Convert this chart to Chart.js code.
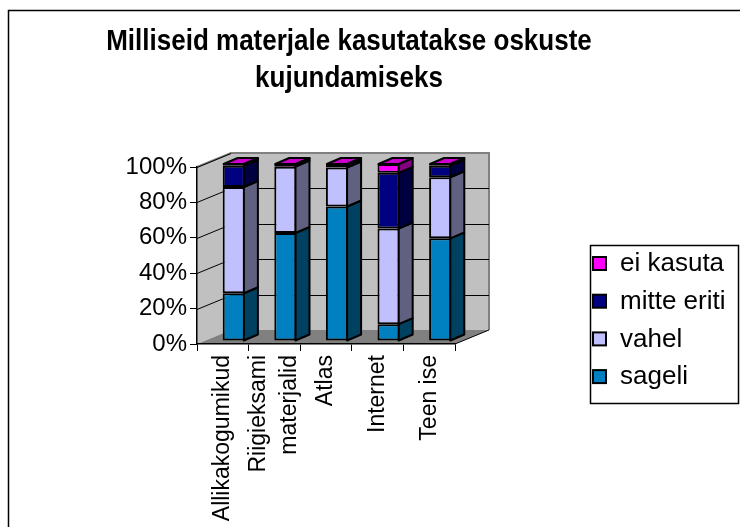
<!DOCTYPE html>
<html lang="et">
<head>
    <meta charset="UTF-8">
    <title>Milliseid materjale kasutatakse oskuste kujundamiseks</title>
    <script src="https://cdn.jsdelivr.net/npm/chart.js"></script>
    <style>
        body {
            margin: 0;
            background-color: #ffffff;
        }
        .chart-container {
            width: 740px;
            height: 527px;
            position: relative;
        }
    </style>
</head>
<body>
    <div class="chart-container">
        <canvas id="materialChart" width="740" height="527"></canvas>
    </div>

    <script>
        // Data (percent of answers)
        const categories = ['Allikakogumikud', ['Riigieksami', 'materjalid'], 'Atlas', 'Internet', 'Teen ise'];
        const sageli = [27, 61, 76, 9.5, 58];
        const vahel = [60, 37.5, 22, 54, 34.5];
        const mitteEriti = [12, 1, 1.5, 31.5, 6.5];
        const eiKasuta = [1, 0.5, 0.5, 5, 1];
        const yTicks = [0, 20, 40, 60, 80, 100];
        const titleLines = ['Milliseid materjale kasutatakse oskuste', 'kujundamiseks'];

        const FONT = '"Liberation Sans", Arial, sans-serif';

        // 3D look: depth of the plot box, and of each bar
        const WALL_DX = 34, WALL_DY = -14;
        const BAR_DX = 11, BAR_DY = -3;
        const SIDE_DX = 14, SIDE_DY = -6;

        const sideColors = ['#004060', '#606080', '#000040', '#800080'];
        const topColor = '#cc00cc';

        const wallsPlugin = {
            id: 'walls',
            beforeDraw(chart) {
                const ctx = chart.ctx;
                const x = chart.scales.x, y = chart.scales.y;
                const left = x.left, right = x.right;
                const top = y.getPixelForValue(100), bottom = y.getPixelForValue(0);
                ctx.save();
                // outer frame
                ctx.strokeStyle = '#000000';
                ctx.lineWidth = 1.5;
                ctx.strokeRect(8.5, 10.5, 760, 560);
                // back wall
                ctx.fillStyle = '#c0c0c0';
                ctx.fillRect(left + WALL_DX, top + WALL_DY, right - left, bottom - top);
                // side wall
                ctx.beginPath();
                ctx.moveTo(left, top);
                ctx.lineTo(left + WALL_DX, top + WALL_DY);
                ctx.lineTo(left + WALL_DX, bottom + WALL_DY);
                ctx.lineTo(left, bottom);
                ctx.closePath();
                ctx.fill();
                // floor
                ctx.fillStyle = '#808080';
                ctx.beginPath();
                ctx.moveTo(left, bottom);
                ctx.lineTo(right, bottom);
                ctx.lineTo(right + WALL_DX, bottom + WALL_DY);
                ctx.lineTo(left + WALL_DX, bottom + WALL_DY);
                ctx.closePath();
                ctx.fill();
                // wall edges
                ctx.strokeStyle = '#808080';
                ctx.lineWidth = 2;
                ctx.beginPath();
                ctx.moveTo(left, top);
                ctx.lineTo(left + WALL_DX, top + WALL_DY);
                ctx.lineTo(right + WALL_DX, top + WALL_DY);
                ctx.lineTo(right + WALL_DX, bottom + WALL_DY);
                ctx.stroke();
                // grid lines on the walls
                ctx.strokeStyle = '#000000';
                ctx.lineWidth = 1;
                yTicks.forEach(v => {
                    if (v === 0) return;
                    const py = Math.round(y.getPixelForValue(v)) + 0.5;
                    ctx.beginPath();
                    ctx.moveTo(left, py);
                    ctx.lineTo(left + WALL_DX, py + WALL_DY);
                    if (v !== 100) ctx.lineTo(right + WALL_DX, py + WALL_DY);
                    ctx.stroke();
                });
                // floor right edge
                ctx.beginPath();
                ctx.moveTo(right, bottom);
                ctx.lineTo(right + WALL_DX, bottom + WALL_DY);
                ctx.stroke();
                ctx.restore();
            }
        };

        const barsPlugin = {
            id: 'bars3d',
            beforeDatasetsDraw(chart) {
                chart.ctx.save();
                chart.ctx.translate(BAR_DX, BAR_DY);
            },
            afterDatasetsDraw(chart) {
                const ctx = chart.ctx;
                ctx.strokeStyle = '#000000';
                ctx.lineWidth = 2;
                ctx.lineJoin = 'round';
                chart.data.datasets.forEach((ds, di) => {
                    const meta = chart.getDatasetMeta(di);
                    meta.data.forEach((bar, i) => {
                        const p = bar.getProps(['x', 'y', 'base', 'width'], true);
                        const x2 = p.x + p.width / 2 - 1;
                        const yt = Math.min(p.y, p.base), yb = Math.max(p.y, p.base);
                        ctx.fillStyle = sideColors[di];
                        ctx.beginPath();
                        ctx.moveTo(x2, yt);
                        ctx.lineTo(x2 + SIDE_DX, yt + SIDE_DY);
                        ctx.lineTo(x2 + SIDE_DX, yb + SIDE_DY);
                        ctx.lineTo(x2, yb);
                        ctx.closePath();
                        ctx.fill();
                        ctx.stroke();
                        if (di === chart.data.datasets.length - 1) {
                            const x1 = p.x - p.width / 2 + 1;
                            ctx.fillStyle = topColor;
                            ctx.beginPath();
                            ctx.moveTo(x1, yt);
                            ctx.lineTo(x2, yt);
                            ctx.lineTo(x2 + SIDE_DX, yt + SIDE_DY);
                            ctx.lineTo(x1 + SIDE_DX, yt + SIDE_DY);
                            ctx.closePath();
                            ctx.fill();
                            ctx.stroke();
                        }
                    });
                });
                ctx.restore();
            }
        };

        const textPlugin = {
            id: 'texts',
            afterDraw(chart) {
                const ctx = chart.ctx;
                const xScale = chart.scales.x;
                ctx.save();
                ctx.fillStyle = '#000000';

                // title, slightly stretched vertically like the original
                ctx.font = 'bold 26px ' + FONT;
                ctx.textAlign = 'center';
                ctx.textBaseline = 'middle';
                titleLines.forEach((line, i) => {
                    ctx.save();
                    ctx.translate(349, 42 + i * 37);
                    ctx.scale(1, 1.1);
                    ctx.fillText(line, 0, 0);
                    ctx.restore();
                });

                // category labels, rotated, multi-line labels centred on the category
                ctx.font = '23px ' + FONT;
                ctx.textAlign = 'right';
                categories.forEach((label, i) => {
                    const lines = Array.isArray(label) ? label : [label];
                    const px = xScale.getPixelForValue(i);
                    lines.forEach((line, j) => {
                        const off = (j - (lines.length - 1) / 2) * 31;
                        ctx.save();
                        ctx.translate(px + off, 355);
                        ctx.rotate(-Math.PI / 2);
                        ctx.fillText(line, 0, 0);
                        ctx.restore();
                    });
                });

                // legend box
                const lx = 590, ly = 245, lw = 148, lh = 158;
                ctx.fillStyle = '#ffffff';
                ctx.fillRect(lx, ly, lw, lh);
                ctx.strokeStyle = '#000000';
                ctx.lineWidth = 1.5;
                ctx.strokeRect(lx + 0.5, ly + 0.5, lw, lh);
                ctx.font = '26px ' + FONT;
                ctx.textAlign = 'left';
                const items = chart.data.datasets.slice().reverse();
                items.forEach((ds, i) => {
                    const cy = 264 + i * 37.7;
                    ctx.fillStyle = ds.backgroundColor;
                    ctx.fillRect(593, cy - 7, 13, 13);
                    ctx.lineWidth = 2;
                    ctx.strokeRect(593, cy - 7, 13, 13);
                    ctx.fillStyle = '#000000';
                    ctx.fillText(ds.label, 620, cy);
                });
                ctx.restore();
            }
        };

        const barStyle = {
            borderColor: '#000000',
            borderWidth: 2,
            borderSkipped: false,
            barPercentage: 0.43,
            categoryPercentage: 1,
            clip: false
        };

        const ctx = document.getElementById('materialChart').getContext('2d');
        const materialChart = new Chart(ctx, {
            type: 'bar',
            data: {
                labels: categories,
                datasets: [
                    { label: 'sageli', data: sageli, backgroundColor: '#0080c0', ...barStyle },
                    { label: 'vahel', data: vahel, backgroundColor: '#c0c0ff', ...barStyle },
                    { label: 'mitte eriti', data: mitteEriti, backgroundColor: '#000080', ...barStyle },
                    { label: 'ei kasuta', data: eiKasuta, backgroundColor: '#ff00ff', ...barStyle }
                ]
            },
            options: {
                responsive: false,
                animation: false,
                layout: {
                    padding: { top: 167, left: 0, right: 285, bottom: 0 }
                },
                scales: {
                    x: {
                        stacked: true,
                        afterFit(scale) { scale.height = 183; },
                        grid: {
                            drawOnChartArea: false,
                            drawTicks: true,
                            tickLength: 7,
                            color: '#000000',
                            offset: true
                        },
                        border: { color: '#000000', width: 1.5 },
                        ticks: { display: false, autoSkip: false }
                    },
                    y: {
                        stacked: true,
                        min: 0,
                        max: 100,
                        afterFit(scale) { scale.width = 197; },
                        afterBuildTicks(scale) {
                            scale.ticks = yTicks.map(v => ({ value: v }));
                        },
                        grid: {
                            drawOnChartArea: false,
                            drawTicks: true,
                            tickLength: 7,
                            color: '#000000'
                        },
                        border: { color: '#000000', width: 1.5 },
                        ticks: {
                            color: '#000000',
                            font: { family: FONT, size: 24 },
                            padding: 3,
                            callback: v => v + '%'
                        }
                    }
                },
                plugins: {
                    legend: { display: false },
                    title: { display: false },
                    tooltip: { enabled: false }
                }
            },
            plugins: [wallsPlugin, barsPlugin, textPlugin]
        });
    </script>
</body>
</html>
